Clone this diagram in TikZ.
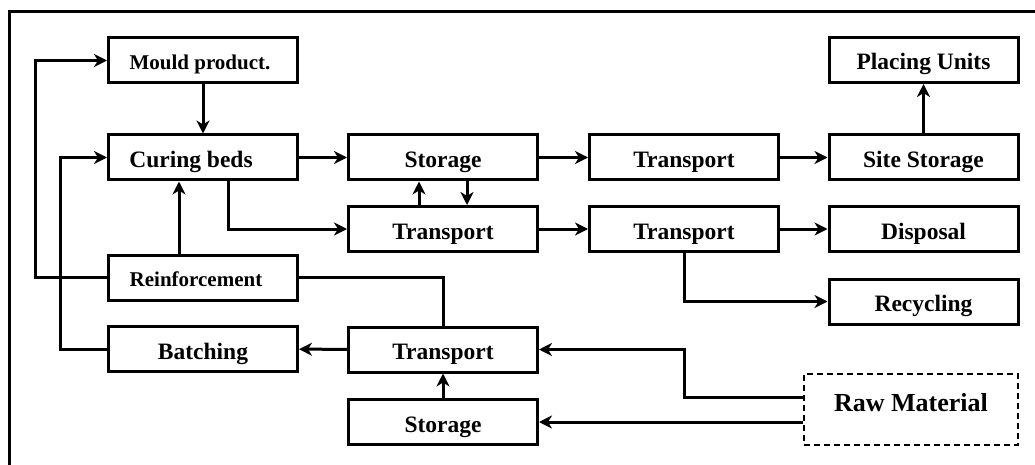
\documentclass[tikz,border=0pt]{standalone}
\usepackage{fontspec}
\setmainfont{Liberation Serif}
\usetikzlibrary{arrows.meta}
\begin{document}
\begin{tikzpicture}[x=1pt,y=-1pt,
  line width=3pt,
  stepbox/.style={draw, line width=3pt, minimum width=189pt, minimum height=45pt,
    inner sep=0pt, font=\bfseries\fontsize{23.5}{28}\selectfont,
    text height=20pt, text depth=0pt},
  smallbox/.style={stepbox, font=\bfseries\fontsize{21}{25}\selectfont,
    text height=17.5pt, text depth=0pt},
  rawbox/.style={draw, dashed, dash pattern=on 6pt off 4pt, line width=1.5pt,
    minimum width=214pt, minimum height=71pt, inner sep=0pt,
    font=\bfseries\fontsize{26}{30}\selectfont, text height=18pt, text depth=15pt},
  arr/.style={-{Stealth[length=13pt,width=13pt,inset=4pt]}, line width=3pt},
  link/.style={line width=3pt}]
\useasboundingbox (0,0) rectangle (1035,465);

% outer frame (top and left edges)
\draw[line width=3pt] (9,465) -- (9,11.5) -- (1035,11.5);

% boxes
\node[smallbox] (mould) at (203,60.5) {Mould product.\hspace*{6pt}};
\node[stepbox] (curing) at (203,157.5) {Curing beds\hspace*{24pt}};
\node[stepbox] (store1) at (443,157.5) {Storage};
\node[stepbox] (trans1) at (684,157.5) {Transport};
\node[stepbox] (site) at (923.5,157.5) {Site Storage};
\node[stepbox] (placing) at (923.5,60) {Placing Units};
\node[stepbox] (trans2) at (443,229) {Transport};
\node[stepbox] (trans2r) at (684,229) {Transport};
\node[stepbox] (disposal) at (923.5,229) {Disposal};
\node[stepbox] (recycling) at (923.5,301.5) {Recycling};
\node[smallbox] (reinf) at (203,277.5) {Reinforcement\hspace*{14pt}};
\node[stepbox] (batching) at (203,349) {Batching};
\node[stepbox] (trans3) at (443,349.5) {Transport};
\node[stepbox] (store3) at (443,422) {Storage};
\node[rawbox] (raw) at (911,409.5) {Raw Material};

% feedback loops on the left
\draw[arr] (reinf.west) -- (35,277.5) |- (mould.west);
\draw[arr] (batching.west) -- (60,349) |- (curing.west);

% production line
\draw[arr] (mould) -- (curing);
\draw[arr] ([xshift=-24pt]reinf.north) -- ([xshift=-24pt]curing.south);
\draw[arr] ([xshift=25pt]curing.south) |- (trans2.west);
\draw[arr] (curing) -- (store1);
\draw[arr] (store1) -- (trans1);
\draw[arr] (trans1) -- (site);
\draw[arr] (site) -- (placing);
\draw[arr] ([xshift=-24pt]trans2.north) -- ([xshift=-24pt]store1.south);
\draw[arr] ([xshift=24pt]store1.south) -- ([xshift=24pt]trans2.north);
\draw[arr] (trans2) -- (trans2r);
\draw[arr] (trans2r) -- (disposal);
\draw[arr] (trans2r.south) |- (recycling.west);

% supply side
\draw[link] (reinf.east) -| (trans3.north);
\draw[arr] (trans3) -- (batching);
\draw[arr] (store3) -- (trans3);
\draw[arr] ([yshift=12.5pt]raw.west) -- (684,397) |- (trans3.east);
\draw[arr] (raw.west |- store3.east) -- (store3.east);
\end{tikzpicture}
\end{document}
